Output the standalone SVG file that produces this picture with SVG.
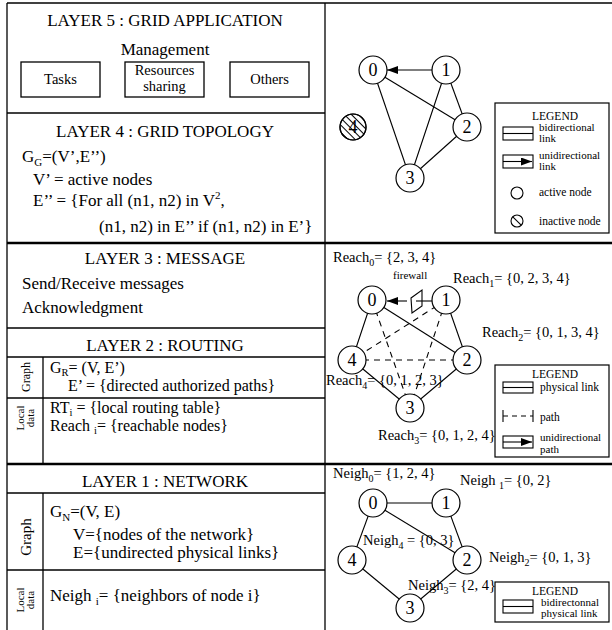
<svg xmlns="http://www.w3.org/2000/svg" width="612" height="630" viewBox="0 0 612 630">
<style>
text{font-family:"Liberation Serif","Times New Roman",serif;fill:#000}
.t{font-size:17px}
.t2{font-size:16px}
.title{font-size:17px;text-anchor:middle}
.box{font-size:14.5px;text-anchor:middle}
.lbl{font-size:14.5px}
.sub{font-size:10px}
.leg{font-size:11.5px}
.leg2{font-size:11px}
.legt{font-size:11.5px;text-anchor:middle}
.num{font-size:18px;text-anchor:middle}
.frame{stroke:#000;stroke-width:1.3;fill:none}
.thick{stroke:#000;stroke-width:2.6;fill:none}
.e{stroke:#000;stroke-width:1.1;fill:none}
.d{stroke:#000;stroke-width:1.1;fill:none;stroke-dasharray:6,5}
.n{fill:#fff;stroke:#000;stroke-width:1.2}
.lb{fill:#fff;stroke:#000;stroke-width:1.2}
</style>
<defs>
<marker id="arr" markerUnits="userSpaceOnUse" markerWidth="12" markerHeight="8" refX="11" refY="4" orient="auto">
<path d="M0,0 L11,4 L0,8 z" fill="#000"/>
</marker>
<pattern id="hatch" patternUnits="userSpaceOnUse" width="6" height="5" patternTransform="rotate(45)">
<line x1="0" y1="2.5" x2="6" y2="2.5" stroke="#000" stroke-width="1"/>
</pattern>
</defs>

<g id="frame">
<line class="frame" x1="7" y1="3" x2="612" y2="3"/>
<line class="frame" x1="7" y1="3" x2="7" y2="630"/>
<line class="frame" x1="325" y1="3" x2="325" y2="630"/>
<line class="frame" x1="7" y1="113" x2="325" y2="113"/>
<line class="thick" x1="7" y1="243" x2="612" y2="243"/>
<line class="frame" x1="7" y1="328" x2="325" y2="328"/>
<line class="frame" x1="7" y1="357" x2="325" y2="357"/>
<line class="frame" x1="7" y1="398" x2="325" y2="398"/>
<line class="frame" x1="43" y1="357" x2="43" y2="464"/>
<line class="thick" x1="7" y1="464" x2="612" y2="464"/>
<line class="frame" x1="7" y1="493" x2="325" y2="493"/>
<line class="frame" x1="7" y1="570" x2="325" y2="570"/>
<line class="frame" x1="43" y1="493" x2="43" y2="630"/>
</g>

<g id="layer5">
<text class="title" x="165" y="26">LAYER 5 : GRID APPLICATION</text>
<text class="t" x="165" y="55" text-anchor="middle">Management</text>
<g id="tasks"><rect class="frame" x="21" y="62" width="79" height="35"/><text class="box" x="60.5" y="84">Tasks</text></g>
<g id="resources"><rect class="frame" x="125" y="62" width="79" height="35"/><text class="box" x="164.5" y="75">Resources</text><text class="box" x="164.5" y="91">sharing</text></g>
<g id="others"><rect class="frame" x="230" y="62" width="79" height="35"/><text class="box" x="269.5" y="84">Others</text></g>
</g>

<g id="layer4">
<text class="title" x="165" y="137">LAYER 4 : GRID TOPOLOGY</text>
<text class="t" x="22" y="162">G<tspan font-size="11" dy="4">G</tspan><tspan dy="-4">=(V’,E’’)</tspan></text>
<text class="t" x="33" y="185">V’ = active nodes</text>
<text class="t" x="33" y="206">E’’ = {For all (n1, n2) in V<tspan font-size="11" dy="-7">2</tspan><tspan dy="7">,</tspan></text>
<text class="t" x="99" y="232">(n1, n2) in E’’ if (n1, n2) in E’}</text>
</g>

<g id="layer3">
<text class="title" x="165" y="264">LAYER 3 : MESSAGE</text>
<text class="t" x="22" y="289">Send/Receive messages</text>
<text class="t" x="22" y="313">Acknowledgment</text>
</g>

<g id="layer2">
<text class="title" x="165" y="351">LAYER 2 : ROUTING</text>
<text font-size="12" transform="translate(30,377) rotate(-90)" text-anchor="middle">Graph</text>
<text class="t2" x="50" y="373">G<tspan font-size="10.5" dy="3">R</tspan><tspan dy="-3">= (V, E’)</tspan></text>
<text class="t2" x="68" y="391">E’ = {directed authorized paths}</text>
<text font-size="11" transform="translate(24,418) rotate(-90)" text-anchor="middle">Local</text>
<text font-size="11" transform="translate(34,418) rotate(-90)" text-anchor="middle">data</text>
<text class="t2" x="50" y="413">RT<tspan font-size="10.5" dy="3">i</tspan><tspan dy="-3"> = {local routing table}</tspan></text>
<text class="t2" x="50" y="431">Reach <tspan font-size="10.5" dy="3">i</tspan><tspan dy="-3">= {reachable nodes}</tspan></text>
</g>

<g id="layer1">
<text class="title" x="165" y="487">LAYER 1 : NETWORK</text>
<text font-size="15" transform="translate(31,537) rotate(-90)" text-anchor="middle">Graph</text>
<text class="t" x="50" y="517">G<tspan font-size="11" dy="4">N</tspan><tspan dy="-4">=(V, E)</tspan></text>
<text class="t" x="73" y="540">V={nodes of the network}</text>
<text class="t" x="73" y="558">E={undirected physical links}</text>
<text font-size="11" transform="translate(24,600) rotate(-90)" text-anchor="middle">Local</text>
<text font-size="11" transform="translate(34,600) rotate(-90)" text-anchor="middle">data</text>
<text class="t" x="50" y="601">Neigh <tspan font-size="11" dy="4">i</tspan><tspan dy="-4">= {neighbors of node i}</tspan></text>
</g>

<g id="connectors">
<line class="e" x1="373" y1="70" x2="467" y2="127"/>
<line class="e" x1="373" y1="70" x2="410" y2="178"/>
<line class="e" x1="446" y1="70" x2="467" y2="127"/>
<line class="e" x1="446" y1="70" x2="410" y2="178"/>
<line class="e" x1="467" y1="127" x2="410" y2="178"/>
<line class="e" x1="432" y1="70" x2="387" y2="70" marker-end="url(#arr)"/>
<line class="e" x1="372" y1="300" x2="352" y2="360"/>
<line class="e" x1="446" y1="300" x2="467" y2="360"/>
<line class="e" x1="372" y1="300" x2="467" y2="360"/>
<line class="e" x1="352" y1="360" x2="410" y2="408"/>
<line class="e" x1="467" y1="360" x2="410" y2="408"/>
<line class="d" x1="372" y1="300" x2="410" y2="408"/>
<line class="d" x1="446" y1="300" x2="410" y2="408"/>
<line class="d" x1="446" y1="300" x2="352" y2="360"/>
<line class="d" x1="352" y1="360" x2="467" y2="360"/>
<line class="e" x1="407" y1="301" x2="387" y2="301" marker-end="url(#arr)"/>
<line class="e" x1="432" y1="301" x2="416" y2="301"/>
<line class="e" x1="373" y1="503" x2="446" y2="503"/>
<line class="e" x1="373" y1="503" x2="467" y2="560"/>
<line class="e" x1="373" y1="503" x2="352" y2="560"/>
<line class="e" x1="446" y1="503" x2="467" y2="560"/>
<line class="e" x1="352" y1="560" x2="410" y2="608"/>
<line class="e" x1="467" y1="560" x2="410" y2="608"/>
</g>

<g id="firewall">
<polygon points="411,298 422,290 422,306 412,313" fill="none" stroke="#000" stroke-width="1.1"/>
<text font-size="11" x="393" y="279">firewall</text>
</g>

<g id="g4-nodes">
<g id="g4-n0"><circle class="n" cx="373" cy="70" r="14"/><text class="num" x="373" y="76">0</text></g>
<g id="g4-n1"><circle class="n" cx="446" cy="70" r="14"/><text class="num" x="446" y="76">1</text></g>
<g id="g4-n2"><circle class="n" cx="467" cy="127" r="14"/><text class="num" x="467" y="133">2</text></g>
<g id="g4-n3"><circle class="n" cx="410" cy="178" r="14"/><text class="num" x="410" y="184">3</text></g>
<g id="g4-n4"><circle class="n" cx="353" cy="127" r="13"/><circle cx="353" cy="127" r="13" fill="url(#hatch)" stroke="#000" stroke-width="1.2"/><text class="num" x="353" y="133">4</text></g>
</g>

<g id="g3-nodes">
<g id="g3-n0"><circle class="n" cx="372" cy="300" r="14"/><text class="num" x="372" y="306">0</text></g>
<g id="g3-n1"><circle class="n" cx="446" cy="300" r="14"/><text class="num" x="446" y="306">1</text></g>
<g id="g3-n2"><circle class="n" cx="467" cy="360" r="14"/><text class="num" x="467" y="366">2</text></g>
<g id="g3-n3"><circle class="n" cx="410" cy="408" r="14"/><text class="num" x="410" y="414">3</text></g>
<g id="g3-n4"><circle class="n" cx="352" cy="360" r="14"/><text class="num" x="352" y="366">4</text></g>
</g>

<g id="g1-nodes">
<g id="g1-n0"><circle class="n" cx="373" cy="503" r="14"/><text class="num" x="373" y="509">0</text></g>
<g id="g1-n1"><circle class="n" cx="446" cy="503" r="14"/><text class="num" x="446" y="509">1</text></g>
<g id="g1-n2"><circle class="n" cx="467" cy="560" r="14"/><text class="num" x="467" y="566">2</text></g>
<g id="g1-n3"><circle class="n" cx="410" cy="608" r="14"/><text class="num" x="410" y="614">3</text></g>
<g id="g1-n4"><circle class="n" cx="352" cy="560" r="14"/><text class="num" x="352" y="566">4</text></g>
</g>

<g id="reach-labels">
<text class="lbl" x="333" y="262">Reach<tspan class="sub" dy="4">0</tspan><tspan dy="-4">= {2, 3, 4}</tspan></text>
<text class="lbl" x="453" y="283">Reach<tspan class="sub" dy="4">1</tspan><tspan dy="-4">= {0, 2, 3, 4}</tspan></text>
<text class="lbl" x="482" y="337">Reach<tspan class="sub" dy="4">2</tspan><tspan dy="-4">= {0, 1, 3, 4}</tspan></text>
<text class="lbl" x="326" y="385">Reach<tspan class="sub" dy="4">4</tspan><tspan dy="-4">= {0, 1, 2, 3}</tspan></text>
<text class="lbl" x="378" y="440">Reach<tspan class="sub" dy="4">3</tspan><tspan dy="-4">= {0, 1, 2, 4}</tspan></text>
</g>

<g id="neigh-labels">
<text class="lbl" x="333" y="478">Neigh<tspan class="sub" dy="4">0</tspan><tspan dy="-4">= {1, 2, 4}</tspan></text>
<text class="lbl" x="460" y="485">Neigh <tspan class="sub" dy="4">1</tspan><tspan dy="-4">= {0, 2}</tspan></text>
<text class="lbl" x="363" y="545">Neigh<tspan class="sub" dy="4">4</tspan><tspan dy="-4"> = {0, 3}</tspan></text>
<text class="lbl" x="489" y="562">Neigh<tspan class="sub" dy="4">2</tspan><tspan dy="-4">= {0, 1, 3}</tspan></text>
<text class="lbl" x="408" y="590">Neigh<tspan class="sub" dy="4">3</tspan><tspan dy="-4">= {2, 4}</tspan></text>
</g>

<g id="legend4">
<rect class="lb" x="495" y="103" width="114" height="130"/>
<text class="legt" x="555" y="120">LEGEND</text>
<rect class="e" x="503" y="127" width="30" height="13"/>
<line class="e" x1="503" y1="133.5" x2="533" y2="133.5"/>
<text class="leg2" x="539" y="131">bidirectional</text>
<text class="leg2" x="539" y="142">link</text>
<rect class="e" x="503" y="155" width="30" height="13"/>
<line class="e" x1="503" y1="161.5" x2="532" y2="161.5" marker-end="url(#arr)"/>
<text class="leg2" x="539" y="159">unidirectional</text>
<text class="leg2" x="539" y="170">link</text>
<circle class="e" cx="517" cy="193" r="6"/>
<text class="leg" x="539" y="196">active node</text>
<circle class="e" cx="517" cy="221" r="6"/>
<line class="e" x1="512.8" y1="216.8" x2="521.2" y2="225.2"/>
<text class="leg" x="539" y="225">inactive node</text>
</g>

<g id="legend3">
<rect class="lb" x="495" y="365" width="114" height="92"/>
<text class="legt" x="555" y="378">LEGEND</text>
<rect class="e" x="503" y="382" width="30" height="11"/>
<line class="e" x1="503" y1="387.5" x2="533" y2="387.5"/>
<text class="leg" x="540" y="391">physical link</text>
<line class="e" x1="503" y1="410" x2="503" y2="422"/>
<line class="e" x1="533" y1="410" x2="533" y2="422"/>
<line class="e" x1="503" y1="416" x2="533" y2="416" stroke-dasharray="5,4"/>
<text class="leg" x="540" y="421">path</text>
<rect class="e" x="503" y="436" width="30" height="12"/>
<line class="e" x1="503" y1="442" x2="532" y2="442" marker-end="url(#arr)"/>
<text class="leg2" x="540" y="441">unidirectional</text>
<text class="leg2" x="540" y="453">path</text>
</g>

<g id="legend1">
<rect class="lb" x="495" y="582" width="114" height="40"/>
<text class="legt" x="555" y="595">LEGEND</text>
<rect class="e" x="503" y="600" width="30" height="13"/>
<line class="e" x1="503" y1="606.5" x2="533" y2="606.5"/>
<text class="leg2" x="541" y="606">bidirectonnal</text>
<text class="leg2" x="541" y="617">physical link</text>
</g>
</svg>
